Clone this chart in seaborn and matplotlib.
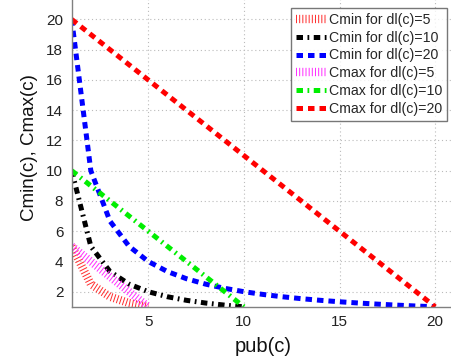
import matplotlib
matplotlib.use("Agg")
import matplotlib.pyplot as plt
import seaborn as sns
import pandas as pd

sns.set_theme(style="white")
plt.rcParams['font.family'] = ['Liberation Sans', 'DejaVu Sans']

# data (integer pub(c) samples)
pub5 = [1, 2, 3, 4, 5]
pub10 = [1, 2, 3, 4, 5, 6, 7, 8, 9, 10]
pub20 = list(range(1, 21))

cmin5 = [5, 2.5, 1.667, 1.25, 1.0]
cmin10 = [10, 5, 3.333, 2.5, 2.0, 1.667, 1.429, 1.25, 1.111, 1.0]
cmin20 = [20, 10, 6.667, 5, 4, 3.333, 2.857, 2.5, 2.222, 2.0,
          1.818, 1.667, 1.538, 1.429, 1.333, 1.25, 1.176, 1.111, 1.053, 1.0]
cmax5 = [5, 4, 3, 2, 1]
cmax10 = [10, 9, 8, 7, 6, 5, 4, 3, 2, 1]
cmax20 = [20, 19, 18, 17, 16, 15, 14, 13, 12, 11, 10, 9, 8, 7, 6, 5, 4, 3, 2, 1]

labels = ["Cmin for dl(c)=5", "Cmin for dl(c)=10", "Cmin for dl(c)=20",
          "Cmax for dl(c)=5", "Cmax for dl(c)=10", "Cmax for dl(c)=20"]
xticks = [5, 10, 15, 20]
yticks = [2, 4, 6, 8, 10, 12, 14, 16, 18, 20]

series = [
    (pub5, cmin5, "#ff3030", 6.0, (0.12, 0.26)),
    (pub10, cmin10, "black", 3.6, (1.3, 0.9, 0.35, 0.9)),
    (pub20, cmin20, "#0000ff", 3.6, (1.3, 1.0)),
    (pub5, cmax5, "#ff30ff", 6.0, (0.12, 0.26)),
    (pub10, cmax10, "#00ee00", 3.6, (1.3, 0.9, 0.35, 0.9)),
    (pub20, cmax20, "#ff0000", 3.6, (1.3, 1.0)),
]

fig = plt.figure(figsize=(4.52, 3.61), dpi=100)
ax = fig.add_axes([0.1586, 0.1501, 0.8465, 0.88])

for (x, y, c, lw, dash), lab in zip(series, labels):
    df = pd.DataFrame({"pub": x, "val": y})
    sns.lineplot(data=df, x="pub", y="val", ax=ax, color=c, linewidth=lw,
                 label=lab, sort=False)
    line = ax.lines[-1]
    line.set_dashes(dash)
    line.set_dash_capstyle('butt')

ax.set_xlim(1, 21)
ax.set_ylim(1, 22)
ax.set_xticks(xticks)
ax.set_yticks(yticks)
ax.set_xticklabels([str(t) for t in xticks])
ax.set_yticklabels([str(t) for t in yticks])
ax.tick_params(axis='both', labelsize=11, length=0, pad=6, colors='#222222')
ax.grid(True, linestyle=(0, (1, 2.5)), color='#bbbbbb', linewidth=0.8)
ax.set_axisbelow(True)
for s in ['top', 'right']:
    ax.spines[s].set_visible(False)
for s in ['left', 'bottom']:
    ax.spines[s].set_color('#808080')
    ax.spines[s].set_linewidth(1.0)

ax.set_xlabel("pub(c)", fontsize=14.5, labelpad=6, color='#111111')
ax.set_ylabel("Cmin(c), Cmax(c)", fontsize=13.5, labelpad=6, color='#111111')

leg = ax.legend(loc='upper right', bbox_to_anchor=(0.981, 0.941), borderaxespad=0,
                fontsize=10.2, frameon=True, fancybox=False, handlelength=2.1,
                handletextpad=0.2, labelspacing=0.27, borderpad=0.35)
leg.get_frame().set_edgecolor('#555555')
leg.get_frame().set_linewidth(1.0)
for h in leg.get_lines():
    h.set_dash_capstyle('butt')

fig.savefig("out.png", dpi=100)
